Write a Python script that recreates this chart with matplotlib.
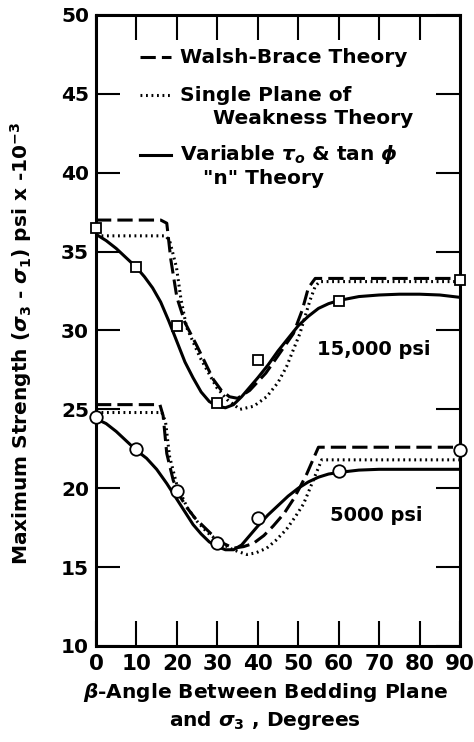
import matplotlib
matplotlib.use('Agg')
import matplotlib.pyplot as plt

# measured points (beta angle in degrees, strength in ksi)
beta_pts = [0, 10, 20, 30, 40, 60, 90]
test_15000 = [36.5, 34.0, 30.3, 25.4, 28.1, 31.9, 33.2]
test_5000 = [24.5, 22.5, 19.8, 16.5, 18.1, 21.1, 22.4]

# 15,000 psi theory curves
wb15_x = [0, 16, 17.5, 18.5, 20, 22, 25, 29, 31, 33, 35, 38, 42, 45, 48.8, 51, 52.5, 54.2, 60, 70, 80, 90]
wb15_y = [37.0, 37.0, 36.8, 34.5, 32.1, 30.5, 29.0, 26.9, 26.2, 25.8, 25.7, 26.2, 27.3, 28.4, 29.8, 31.3, 32.7, 33.3, 33.3, 33.3, 33.3, 33.3]
sp15_x = [0, 17.3, 18.3, 19.9, 21, 22.4, 25.7, 29.8, 32.5, 35.6, 39, 42.2, 45, 47.1, 50.4, 52.9, 54.2, 55.3, 60, 70, 80, 90]
sp15_y = [36.0, 36.0, 35.6, 34.0, 32.0, 30.2, 28.3, 26.4, 25.6, 25.0, 25.2, 25.8, 26.7, 27.7, 29.8, 31.9, 32.8, 33.1, 33.1, 33.1, 33.1, 33.1]
vn15_x = [0, 2.5, 5, 7.5, 10, 12, 14, 16, 18, 20, 22, 24, 26, 28, 30, 32, 34, 36, 38, 40, 42.5, 45, 47.5, 50, 52.5, 55, 57.5, 60, 65, 70, 75, 80, 85, 90]
vn15_y = [36.1, 35.7, 35.2, 34.6, 34.0, 33.4, 32.7, 31.8, 30.6, 29.3, 28.0, 27.0, 26.1, 25.5, 25.2, 25.1, 25.3, 25.8, 26.4, 27.0, 27.8, 28.7, 29.5, 30.3, 30.9, 31.4, 31.7, 31.9, 32.15, 32.25, 32.3, 32.3, 32.25, 32.1]

# 5000 psi theory curves
wb5_x = [0, 15.8, 16.6, 17.5, 19.1, 20.5, 22.4, 24.5, 26.5, 28.5, 30.7, 34, 36.5, 38.9, 41.5, 43.8, 46.5, 48.8, 50.5, 52.1, 53.8, 55, 60, 70, 80, 90]
wb5_y = [25.3, 25.3, 24.6, 22.2, 20.5, 19.6, 18.8, 18.1, 17.6, 17.1, 16.6, 16.2, 16.3, 16.5, 17.0, 17.6, 18.4, 19.3, 20.1, 20.9, 21.9, 22.6, 22.6, 22.6, 22.6, 22.6]
sp5_x = [0, 16.3, 17.2, 18.2, 20, 22.5, 25, 27.5, 30, 33, 35, 37.3, 39.5, 42.2, 44.5, 47.1, 49.3, 51.3, 52.6, 53.7, 55, 55.8, 60, 70, 80, 90]
sp5_y = [24.8, 24.8, 24.2, 22.0, 20.2, 18.8, 17.9, 17.2, 16.7, 16.2, 16.0, 15.8, 15.9, 16.2, 16.7, 17.4, 18.2, 19.0, 19.8, 20.5, 21.3, 21.8, 21.8, 21.8, 21.8, 21.8]
vn5_x = [0, 2.5, 5, 7.5, 10, 12.5, 15, 17.5, 20, 22, 24, 26, 28, 30, 32, 34, 36, 38, 40, 42.5, 45, 47.5, 50, 52.5, 55, 57.5, 60, 65, 70, 80, 90]
vn5_y = [24.4, 24.1, 23.6, 23.0, 22.4, 21.9, 21.2, 20.3, 19.3, 18.5, 17.7, 17.1, 16.6, 16.3, 16.1, 16.1, 16.4, 17.0, 17.6, 18.3, 18.9, 19.5, 20.0, 20.4, 20.7, 20.9, 21.0, 21.15, 21.2, 21.2, 21.2]

xticks = list(range(0, 100, 10))
yticks = list(range(10, 55, 5))

plt.rcParams['font.family'] = 'DejaVu Sans'
plt.rcParams['font.weight'] = 'bold'
plt.rcParams['axes.labelweight'] = 'bold'
plt.rcParams['mathtext.fontset'] = 'dejavusans'
plt.rcParams['mathtext.default'] = 'it'

fig = plt.figure(figsize=(4.74, 7.42), dpi=100)
ax = fig.add_axes([0.2025, 0.1294, 0.768, 0.8504])

lw = 2.2
dash = (0, (5, 2))
dot = (0, (0.6, 1.2))

ax.plot(wb15_x, wb15_y, color='black', lw=lw, linestyle=dash)
ax.plot(sp15_x, sp15_y, color='black', lw=lw, linestyle=dot)
ax.plot(vn15_x, vn15_y, color='black', lw=lw)
ax.plot(wb5_x, wb5_y, color='black', lw=lw, linestyle=dash)
ax.plot(sp5_x, sp5_y, color='black', lw=lw, linestyle=dot)
ax.plot(vn5_x, vn5_y, color='black', lw=lw)

ax.plot(beta_pts, test_15000, linestyle='none', marker='s', markersize=7,
        markerfacecolor='white', markeredgecolor='black', markeredgewidth=1.3, clip_on=False, zorder=5)
ax.plot(beta_pts, test_5000, linestyle='none', marker='o', markersize=9,
        markerfacecolor='white', markeredgecolor='black', markeredgewidth=1.3, clip_on=False, zorder=5)

ax.text(68.7, 28.8, '15,000 psi', fontsize=14, ha='center', va='center')
ax.text(69.4, 18.3, '5000 psi', fontsize=14, ha='center', va='center')

# legend drawn by hand to keep the indented second lines
legend_rows = [
    (dash, 0.933, 'Walsh-Brace Theory', None),
    (dot, 0.873, 'Single Plane of', 'Weakness Theory'),
    ('-', 0.778, r'Variable $\tau_o$ & tan $\phi$', '"n" Theory'),
]
second_x = {'Weakness Theory': 0.321, '"n" Theory': 0.294}
for ls, yy, line1, line2 in legend_rows:
    ax.plot([0.12, 0.205], [yy, yy], transform=ax.transAxes, color='black', lw=lw, linestyle=ls)
    ax.text(0.231, yy, line1, transform=ax.transAxes, fontsize=14.5, va='center', ha='left')
    if line2:
        ax.text(second_x[line2], yy - 0.037, line2, transform=ax.transAxes, fontsize=14.5,
                va='center', ha='left')

ax.set_xlim(0, 90)
ax.set_ylim(10, 50)
ax.set_xticks(xticks)
ax.set_yticks(yticks)
ax.tick_params(axis='x', direction='in', length=18, width=1.5, top=True, labelsize=15.5, pad=6)
ax.tick_params(axis='y', direction='in', length=17, width=1.5, right=True, labelsize=14.5, pad=5)
for s in ax.spines.values():
    s.set_linewidth(2.2)

ax.set_ylabel(r'Maximum Strength ($\sigma_3$ - $\sigma_1$) psi x -10$^{-3}$', fontsize=14.5)
ax.yaxis.set_label_coords(-0.17, 0.479)
ax.set_xlabel('$\\beta$-Angle Between Bedding Plane\nand $\\sigma_3$ , Degrees', fontsize=14.5,
              linespacing=1.3)
ax.xaxis.set_label_coords(0.465, -0.055, transform=ax.transAxes)
ax.xaxis.label.set_va('top')

fig.savefig('out.png', dpi=100)
